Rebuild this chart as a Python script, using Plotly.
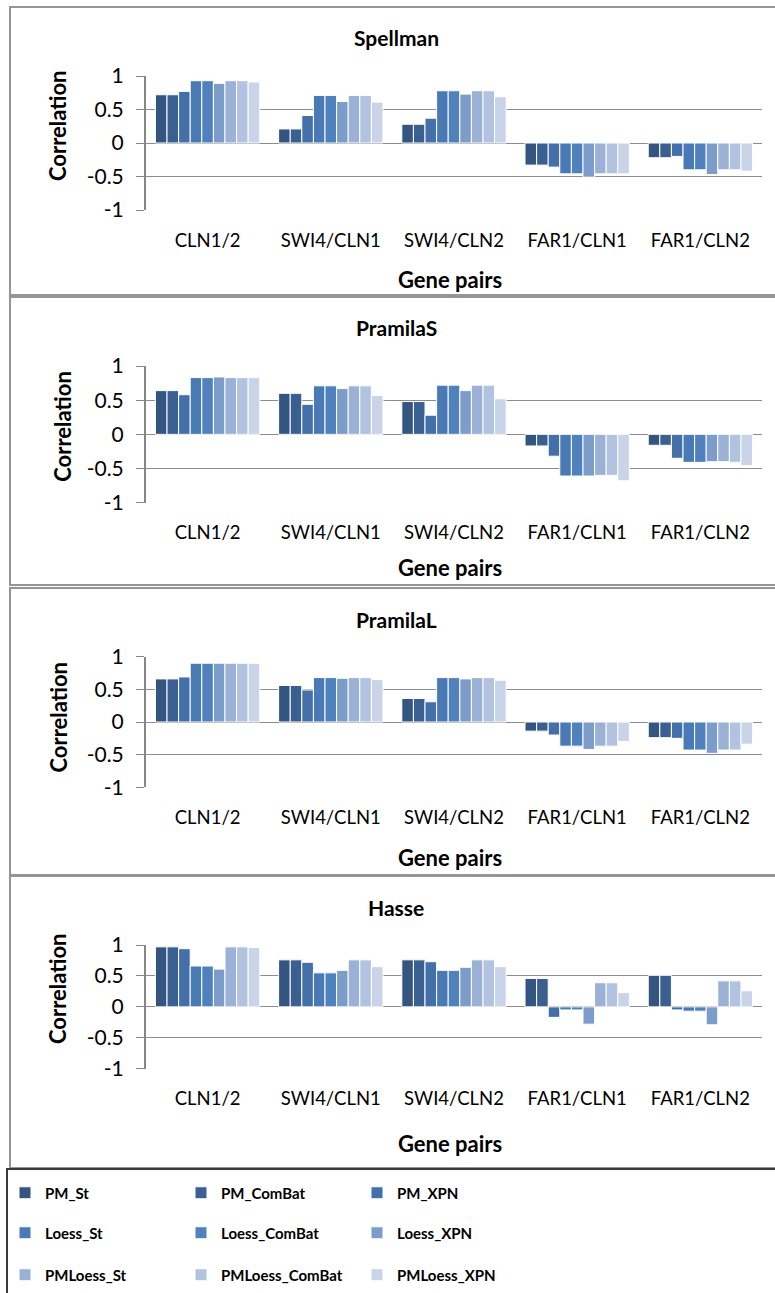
import plotly.graph_objects as go

W, H = 775, 1293

pairs = ["CLN1/2", "SWI4/CLN1", "SWI4/CLN2", "FAR1/CLN1", "FAR1/CLN2"]
methods = ["PM_St", "PM_ComBat", "PM_XPN",
           "Loess_St", "Loess_ComBat", "Loess_XPN",
           "PMLoess_St", "PMLoess_ComBat", "PMLoess_XPN"]
colors = ["#34557F", "#3A6091", "#4370A8", "#4A7AB5", "#4F81BD",
          "#7C9CC9", "#9BB1D6", "#B2C3E1", "#C9D4E8"]
yticks = [-1, -0.5, 0, 0.5, 1]
yticktext = ["-1", "-0.5", "0", "0.5", "1"]

# rows = gene pairs, columns = methods (same order as `methods`)
spellman = [
    [0.72, 0.72, 0.77, 0.93, 0.93, 0.89, 0.93, 0.93, 0.91],
    [0.21, 0.21, 0.41, 0.71, 0.71, 0.62, 0.71, 0.71, 0.61],
    [0.28, 0.28, 0.37, 0.78, 0.78, 0.73, 0.78, 0.78, 0.69],
    [-0.33, -0.33, -0.36, -0.46, -0.46, -0.51, -0.46, -0.46, -0.46],
    [-0.22, -0.22, -0.20, -0.40, -0.40, -0.47, -0.40, -0.40, -0.42],
]
pramila_s = [
    [0.64, 0.64, 0.58, 0.83, 0.83, 0.84, 0.83, 0.83, 0.83],
    [0.60, 0.60, 0.44, 0.71, 0.71, 0.67, 0.71, 0.71, 0.57],
    [0.48, 0.48, 0.28, 0.72, 0.72, 0.64, 0.72, 0.72, 0.52],
    [-0.17, -0.17, -0.32, -0.61, -0.61, -0.61, -0.60, -0.60, -0.68],
    [-0.16, -0.16, -0.35, -0.41, -0.41, -0.40, -0.40, -0.41, -0.46],
]
pramila_l = [
    [0.66, 0.66, 0.69, 0.90, 0.90, 0.90, 0.90, 0.90, 0.90],
    [0.56, 0.56, 0.49, 0.68, 0.68, 0.67, 0.68, 0.68, 0.65],
    [0.36, 0.36, 0.31, 0.68, 0.68, 0.66, 0.68, 0.68, 0.64],
    [-0.14, -0.14, -0.20, -0.37, -0.37, -0.42, -0.37, -0.37, -0.30],
    [-0.24, -0.24, -0.25, -0.43, -0.43, -0.48, -0.43, -0.43, -0.34],
]
hasse = [
    [0.97, 0.97, 0.94, 0.66, 0.66, 0.61, 0.97, 0.97, 0.96],
    [0.76, 0.76, 0.72, 0.55, 0.55, 0.59, 0.76, 0.76, 0.65],
    [0.76, 0.76, 0.73, 0.59, 0.59, 0.64, 0.76, 0.76, 0.65],
    [0.46, 0.46, -0.17, -0.05, -0.05, -0.28, 0.39, 0.39, 0.23],
    [0.51, 0.51, -0.05, -0.07, -0.07, -0.29, 0.42, 0.42, 0.26],
]
datasets = ["Spellman", "PramilaS", "PramilaL", "Hasse"]
values = [spellman, pramila_s, pramila_l, hasse]


def py(y):
    return 1 - y / H


def px(x):
    return x / W


FONT = "Lato"
GRID = "#8C8C8C"
AXIS = "#868686"

# layout geometry (pixels): plot top, plot bottom, title y, ylabel x, ylabel y, xlabel y, panel box
geom = [
    dict(top=76, bot=210, ty=38, cx=57, cy=126, gy=280, box=(7, 295)),
    dict(top=366, bot=502.7, ty=327, cx=61.7, cy=427, gy=567, box=(297, 585)),
    dict(top=656.7, bot=787.3, ty=619, cx=57.5, cy=717, gy=857, box=(588, 875)),
    dict(top=945, bot=1068.7, ty=907, cx=57, cy=989, gy=1143, box=(876, 1168)),
]
legends = ["legend", "legend2", "legend3"]

fig = go.Figure()
layout = {}
annotations = []
shapes = []

for i, (name, vals, g) in enumerate(zip(datasets, values, geom)):
    n = i + 1
    xa = "x" if n == 1 else f"x{n}"
    ya = "y" if n == 1 else f"y{n}"
    for m, meth in enumerate(methods):
        fig.add_trace(go.Bar(
            x=pairs, y=[row[m] for row in vals], name=meth,
            marker=dict(color=colors[m], line=dict(color="white", width=1)),
            xaxis=xa, yaxis=ya, legend=legends[m // 3], legendgroup=meth,
            showlegend=(i == 0), hoverinfo="x+y+name",
        ))
    dom_x = [px(146), px(762)]
    layout[f"xaxis{'' if n == 1 else n}"] = dict(
        domain=dom_x, anchor=ya, type="category", showline=False, showgrid=False,
        ticks="", zeroline=False, ticklabelstandoff=17,
        tickfont=dict(family=FONT, size=18.5, color="#000"),
    )
    layout[f"yaxis{'' if n == 1 else n}"] = dict(
        domain=[py(g["bot"]), py(g["top"])], anchor=xa, range=[-1, 1],
        tickvals=yticks, ticktext=yticktext, showgrid=True, gridcolor=GRID,
        gridwidth=1, zeroline=False, showline=True, linecolor=AXIS, linewidth=2,
        ticks="outside", ticklen=8, tickcolor=AXIS, ticklabelstandoff=8,
        tickfont=dict(family=FONT, size=21, color="#000"),
    )
    zero_y = (py(g["bot"]) + py(g["top"])) / 2
    layout[f"xaxis{n + 4}"] = dict(
        overlaying=xa, anchor="free", position=zero_y, domain=dom_x,
        range=[-0.5, 4.5], tickvals=[-0.5, 0.5, 1.5, 2.5, 3.5, 4.5],
        ticks="outside", ticklen=5, tickcolor=AXIS, tickwidth=1,
        showline=True, linecolor=AXIS, linewidth=2, showticklabels=False,
        showgrid=False, zeroline=False,
    )
    annotations.append(dict(
        text=name, x=px(396), y=py(g["ty"]), xref="paper", yref="paper",
        showarrow=False, xanchor="center", yanchor="middle",
        font=dict(family=FONT, size=21, color="#000", weight="bold"),
    ))
    annotations.append(dict(
        text="Correlation", x=px(g["cx"]), y=py(g["cy"]), xref="paper", yref="paper",
        showarrow=False, xanchor="center", yanchor="middle", textangle=-90,
        font=dict(family=FONT, size=22, color="#000", weight="bold"),
    ))
    annotations.append(dict(
        text="Gene pairs", x=px(450), y=py(g["gy"]), xref="paper", yref="paper",
        showarrow=False, xanchor="center", yanchor="middle",
        font=dict(family=FONT, size=22, color="#000", weight="bold"),
    ))
    b0, b1 = g["box"]
    shapes.append(dict(type="rect", xref="paper", yref="paper",
                       x0=px(10), x1=px(790), y0=py(b1), y1=py(b0),
                       line=dict(color="#959595", width=2), layer="below"))

# legend box
shapes.append(dict(type="rect", xref="paper", yref="paper",
                   x0=px(7), x1=px(790), y0=py(1300), y1=py(1169),
                   line=dict(color="#3A3A3A", width=2), layer="below"))

leg_rows = [1193, 1233, 1275]
for k, lname in enumerate(legends):
    layout[lname] = dict(
        orientation="h", x=px(5), y=py(leg_rows[k]), xanchor="left", yanchor="middle",
        entrywidth=131, entrywidthmode="pixels", bgcolor="rgba(0,0,0,0)",
        font=dict(family=FONT, size=15, color="#000", weight="bold"),
        itemclick=False, itemdoubleclick=False, traceorder="normal",
    )

fig.update_layout(
    width=W, height=H,
    margin=dict(l=0, r=0, t=0, b=0, pad=0, autoexpand=False),
    paper_bgcolor="white", plot_bgcolor="white",
    barmode="group", bargap=0.153, bargroupgap=0,
    annotations=annotations, shapes=shapes, showlegend=True,
    **layout,
)

fig.write_html("out.html", config={"displayModeBar": False},
               post_script="document.body.style.margin='0';")
